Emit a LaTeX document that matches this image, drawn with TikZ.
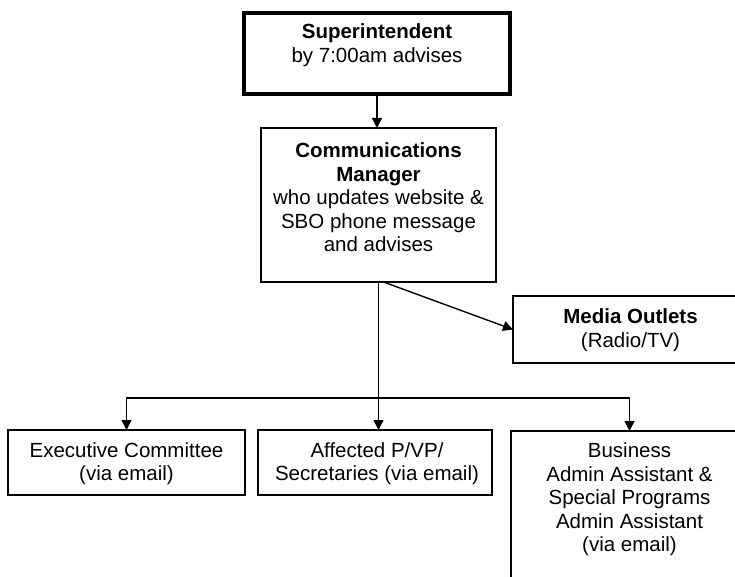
\documentclass[tikz,border=0pt]{standalone}
\usepackage{fontspec}
\setmainfont{Liberation Sans}
\usetikzlibrary{arrows.meta}
\begin{document}
\begin{tikzpicture}[x=1pt,y=-1pt,
  box/.style={draw=black, line width=2pt, rectangle, inner sep=0pt, outer sep=0pt},
  txt/.style={align=center, font=\fontsize{20.5}{23.5}\selectfont, inner sep=0pt},
  conn/.style={line width=1.4pt, -{Triangle[width=10pt,length=10pt]}}]
\useasboundingbox (0,0) rectangle (735,577);
\clip (0,0) rectangle (735,577);
% boxes
\node[box, line width=4pt, minimum width=266, minimum height=81] (super) at (377,53.5) {};
\node[txt] (supertext) at (377,45) {\textbf{Superintendent}\\by 7:00am advises};
\node[box, minimum width=235, minimum height=154] (comms) at (378.5,205) {};
\node[txt] (commstext) at (378.5,197.5) {\textbf{Communications}\\\textbf{Manager}\\who updates website \&\\SBO phone message\\and advises};
\node[box, minimum width=235, minimum height=67] (media) at (630.5,329.5) {};
\node[txt] (mediatext) at (630.5,330) {\textbf{Media Outlets}\\(Radio/TV)};
\node[box, minimum width=237, minimum height=65] (exec) at (126.5,462.5) {};
\node[txt] (exectext) at (126.5,463.5) {Executive Committee\\(via email)};
\node[box, minimum width=234, minimum height=65] (affected) at (375,462.5) {};
\node[txt] (affectedtext) at (377,463.5) {Affected P/VP/\\Secretaries (via email)};
\node[box, anchor=north, minimum width=237, minimum height=200] (business) at (629.5,431) {};
\node[txt] (businesstext) at (629.5,499.5) {Business\\Admin Assistant \&\\Special Programs\\Admin Assistant\\(via email)};
% connectors
\coordinate (split) at (378.5,398);
\draw[conn] (super.south) -- (super.south |- comms.north);
\draw[conn] ([xshift=5pt]comms.south) -- (media.west);
\draw[line width=1.4pt] (comms.south) -- (split);
\draw[conn] (split) -| (exec.north);
\draw[conn] (split) -- (split |- affected.north);
\draw[conn] (split) -| (business.north);
\end{tikzpicture}
\end{document}
